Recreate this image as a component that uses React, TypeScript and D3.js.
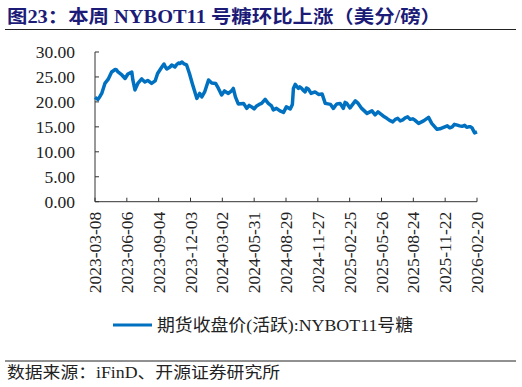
import React from "react";
import * as d3 from "d3";

// 期货收盘价(活跃):NYBOT11号糖, 美分/磅
const dates = [
  "2023-03-08", "2023-03-16", "2023-03-22", "2023-03-27", "2023-04-05", "2023-04-14",
  "2023-04-24", "2023-04-28", "2023-05-04", "2023-05-08", "2023-05-12", "2023-05-23",
  "2023-06-01", "2023-06-09", "2023-06-20", "2023-06-23", "2023-06-29", "2023-07-07",
  "2023-07-18", "2023-07-27", "2023-08-04", "2023-08-15", "2023-08-25", "2023-09-01",
  "2023-09-13", "2023-09-19", "2023-09-23", "2023-09-27", "2023-10-06", "2023-10-11",
  "2023-10-16", "2023-10-20", "2023-10-25", "2023-10-30", "2023-11-03", "2023-11-09",
  "2023-11-15", "2023-11-22", "2023-11-30", "2023-12-08", "2023-12-21", "2023-12-29",
  "2024-01-04", "2024-01-12", "2024-01-23", "2024-02-01", "2024-02-12", "2024-02-20",
  "2024-02-29", "2024-03-08", "2024-03-19", "2024-03-28", "2024-04-02", "2024-04-08",
  "2024-04-16", "2024-05-01", "2024-05-10", "2024-05-17", "2024-05-24", "2024-05-31",
  "2024-06-07", "2024-06-14", "2024-06-21", "2024-07-01", "2024-07-10", "2024-07-19",
  "2024-07-24", "2024-08-02", "2024-08-12", "2024-08-22", "2024-08-30", "2024-09-10",
  "2024-09-16", "2024-09-19", "2024-09-24", "2024-10-03", "2024-10-07", "2024-10-11",
  "2024-10-17", "2024-10-22", "2024-10-26", "2024-10-31", "2024-11-08", "2024-11-19",
  "2024-11-29", "2024-12-09", "2024-12-18", "2025-01-02", "2025-01-10", "2025-01-15",
  "2025-01-20", "2025-01-29", "2025-02-07", "2025-02-12", "2025-02-17", "2025-02-26",
  "2025-03-13", "2025-03-21", "2025-03-31", "2025-04-15", "2025-04-29", "2025-05-08",
  "2025-05-16", "2025-05-27", "2025-06-03", "2025-06-10", "2025-06-18", "2025-06-27",
  "2025-07-04", "2025-07-11", "2025-07-18", "2025-07-25", "2025-08-01", "2025-08-08",
  "2025-08-15", "2025-08-22", "2025-08-29", "2025-09-08", "2025-09-22", "2025-10-06",
  "2025-10-15", "2025-10-30", "2025-11-07", "2025-11-14", "2025-11-21", "2025-11-28",
  "2025-12-05", "2025-12-12", "2025-12-18", "2025-12-24", "2026-01-02", "2026-01-09",
  "2026-01-16", "2026-01-22", "2026-01-27", "2026-02-02", "2026-02-06", "2026-02-13",
  "2026-02-20",
];
const prices = [
  20.9, 20.5, 21.1, 21.7, 23.7, 24.5,
  26.0, 26.2, 26.5, 26.4, 26.0, 25.4,
  24.7, 25.6, 26.0, 24.4, 22.4, 23.7,
  24.6, 24.0, 24.3, 23.7, 24.2, 25.7,
  27.0, 27.6, 27.0, 26.6, 27.0, 27.4,
  27.2, 27.0, 27.5, 27.8, 27.7, 28.0,
  27.6, 27.4, 25.7, 23.7, 20.7, 21.7,
  21.0, 22.0, 24.4, 23.8, 23.7, 22.7,
  21.4, 22.2, 21.7, 22.2, 22.7, 21.0,
  19.6, 19.7, 18.7, 19.3, 19.0, 18.6,
  19.2, 19.5, 19.7, 20.5, 19.7, 19.2,
  18.4, 18.7, 18.2, 17.9, 19.0, 18.6,
  19.5, 22.7, 23.5, 22.7, 23.0, 22.8,
  22.3, 22.0, 22.8, 22.6, 21.7, 22.0,
  21.5, 21.6, 19.7, 19.5, 18.7, 19.2,
  19.6, 19.7, 18.7, 19.9, 19.7, 18.8,
  20.2, 19.7, 18.7, 17.7, 18.2, 17.4,
  18.0, 17.4, 17.0, 16.7, 16.3, 16.0,
  16.5, 16.7, 16.2, 16.4, 16.8, 17.0,
  16.5, 16.6, 16.3, 15.7, 16.2, 16.9,
  15.7, 14.5, 14.6, 14.8, 15.0, 15.2,
  14.8, 15.0, 15.5, 15.4, 15.2, 15.1,
  15.3, 14.9, 15.0, 15.0, 14.8, 13.8,
  14.0,
];
const yTicks = [0, 5, 10, 15, 20, 25, 30];
const xTickLabels = [
  "2023-03-08", "2023-06-06", "2023-09-04", "2023-12-03", "2024-03-02", "2024-05-31",
  "2024-08-29", "2024-11-27", "2025-02-25", "2025-05-26", "2025-08-24", "2025-11-22",
  "2026-02-20",
];

const title = "图23：本周 NYBOT11 号糖环比上涨（美分/磅）";
const legendLabel = "期货收盘价(活跃):NYBOT11号糖";
const source = "数据来源：iFinD、开源证券研究所";

const W = 522;
const H = 387;
const serif = "'Liberation Serif', 'Times New Roman', 'Noto Sans CJK SC', serif";
const blue = "#0070C0";

export default function App() {
  const parse = d3.timeParse("%Y-%m-%d");
  const data = dates.map((d, i) => ({ date: parse(d) as Date, v: prices[i] }));
  const tickDates = xTickLabels.map((d) => parse(d) as Date);

  const x = d3
    .scaleTime()
    .domain([tickDates[0], tickDates[tickDates.length - 1]])
    .range([95, 477]);
  const y = d3.scaleLinear().domain([0, 30]).range([201.7, 52]);

  const line = d3
    .line<{ date: Date; v: number }>()
    .x((d) => x(d.date))
    .y((d) => y(d.v));

  return (
    <svg
      width={W}
      height={H}
      style={{ position: "absolute", left: 0, top: 0, background: "#fff" }}
    >
      {/* title */}
      <text
        x={7}
        y={22.5}
        fontFamily={serif}
        fontWeight="bold"
        fontSize={18}
        fill="#1c1c78"
        textLength={434}
        lengthAdjust="spacingAndGlyphs"
      >
        {title}
      </text>
      <line x1={5} x2={516} y1={29.5} y2={29.5} stroke="#222" strokeWidth={1} />

      {/* y axis */}
      <line x1={95} x2={95} y1={y(30)} y2={y(0)} stroke="#333" strokeWidth={1} />
      {yTicks.map((t) => (
        <g key={t}>
          <line x1={95} x2={99} y1={y(t)} y2={y(t)} stroke="#333" />
          <text
            x={75}
            y={y(t)}
            dy="0.35em"
            textAnchor="end"
            fontFamily={serif}
            fontSize={17.5}
            fill="#222"
          >
            {t.toFixed(2)}
          </text>
        </g>
      ))}

      {/* x axis */}
      <line x1={95} x2={477} y1={y(0)} y2={y(0)} stroke="#333" strokeWidth={1} />
      {tickDates.map((d, i) => (
        <g key={xTickLabels[i]}>
          <line x1={x(d)} x2={x(d)} y1={y(0)} y2={y(0) - 4} stroke="#333" />
          <text
            transform={`translate(${x(d)},${y(0) + 10}) rotate(-90)`}
            dy="0.35em"
            textAnchor="end"
            fontFamily={serif}
            fontSize={17.5}
            fill="#222"
          >
            {xTickLabels[i]}
          </text>
        </g>
      ))}

      {/* series */}
      <path
        d={line(data) || ""}
        fill="none"
        stroke={blue}
        strokeWidth={3.5}
        strokeLinejoin="round"
      />

      {/* legend */}
      <line x1={113} x2={152} y1={325} y2={325} stroke={blue} strokeWidth={3} />
      <text
        x={157}
        y={325}
        dy="0.35em"
        fontFamily={serif}
        fontSize={17}
        fill="#222"
        textLength={256}
        lengthAdjust="spacingAndGlyphs"
      >
        {legendLabel}
      </text>

      {/* source */}
      <line x1={5} x2={516} y1={361} y2={361} stroke="#222" strokeWidth={1} />
      <text
        x={7}
        y={378}
        fontFamily={serif}
        fontSize={16}
        fill="#222"
        textLength={273}
        lengthAdjust="spacingAndGlyphs"
      >
        {source}
      </text>
    </svg>
  );
}
